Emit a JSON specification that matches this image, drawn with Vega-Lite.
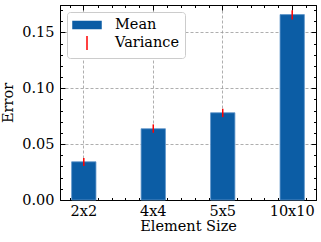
{
  "$schema": "https://vega.github.io/schema/vega-lite/v6.json",
  "autosize": "none",
  "padding": {"left": 60, "top": 5, "right": 5, "bottom": 42},
  "width": 256,
  "height": 195,
  "config": {
    "font": "DejaVu Serif",
    "view": {"stroke": "black", "strokeWidth": 1},
    "axis": {
      "labelFont": "DejaVu Serif", "titleFont": "DejaVu Serif",
      "labelFontSize": 14.5, "titleFontSize": 14.5,
      "labelColor": "black", "titleColor": "black",
      "titleFontWeight": "normal",
      "domainColor": "black", "domainWidth": 1,
      "tickColor": "black", "tickWidth": 1,
      "gridColor": "#999999", "gridDash": [3, 2], "gridWidth": 0.8
    },
    "legend": {
      "labelFont": "DejaVu Serif", "labelFontSize": 14.5, "labelColor": "black",
      "orient": "top-left", "offset": 7, "padding": 5,
      "fillColor": "white", "strokeColor": "#cccccc", "cornerRadius": 3,
      "symbolSize": 196, "rowPadding": 1, "labelOffset": 27,
      "symbolOpacity": 1, "symbolStrokeWidth": 1.5
    }
  },
  "data": {
    "values": [
      {"size": "2x2", "mean": 0.0342, "lo": 0.0304, "hi": 0.0375},
      {"size": "4x4", "mean": 0.0638, "lo": 0.0602, "hi": 0.0677},
      {"size": "5x5", "mean": 0.0781, "lo": 0.0742, "hi": 0.0817},
      {"size": "10x10", "mean": 0.1660, "lo": 0.1617, "hi": 0.1698}
    ]
  },
  "resolve": {"scale": {"x": "independent"}, "axis": {"x": "independent", "y": "independent"}},
  "layer": [
    {
      "mark": {"type": "bar", "fill": "#0C5DA5", "stroke": "#5d93c9", "strokeWidth": 0.8},
      "encoding": {
        "x": {"field": "size", "type": "nominal", "sort": null,
              "scale": {"paddingInner": 0.65, "paddingOuter": 0.1675},
              "axis": {"orient": "bottom", "title": "Element Size", "labelAngle": 0, "tickSize": -5, "labelPadding": 9, "titlePadding": 2, "grid": true}},
        "y": {"field": "mean", "type": "quantitative",
              "scale": {"domain": [0, 0.1746], "nice": false, "zero": false},
              "axis": {"orient": "left", "title": "Error", "values": [0, 0.05, 0.1, 0.15], "format": ".2f", "tickSize": -5, "labelPadding": 11, "titlePadding": 6, "grid": true}}
      }
    },
    {
      "mark": {"type": "rule", "strokeWidth": 1.5, "color": "#FF0000"},
      "encoding": {
        "x": {"field": "size", "type": "nominal", "sort": null,
              "scale": {"paddingInner": 0.65, "paddingOuter": 0.1675},
              "axis": {"orient": "top", "title": null, "labels": false, "tickSize": -5, "grid": false, "domain": true}},
        "y": {"field": "lo", "type": "quantitative",
              "axis": {"orient": "right", "title": null, "labels": false, "values": [0, 0.05, 0.1, 0.15], "tickSize": -5, "grid": false}},
        "y2": {"field": "hi"}
      }
    },
    {
      "mark": {"type": "point", "filled": true, "opacity": 0},
      "encoding": {
        "color": {"datum": "Mean", "type": "nominal",
                  "scale": {"domain": ["Mean", "Variance"], "range": ["#0C5DA5", "#FF0000"]},
                  "legend": {"title": null}},
        "shape": {"datum": "Mean", "type": "nominal",
                  "scale": {"domain": ["Mean", "Variance"], "range": ["M-1,-0.5H3V0.5H-1Z", "M1,-1V1"]},
                  "legend": {"title": null}}
      }
    },
    {
      "mark": {"type": "point", "filled": false, "opacity": 0},
      "encoding": {
        "color": {"datum": "Variance", "type": "nominal"},
        "shape": {"datum": "Variance", "type": "nominal"}
      }
    },
    {
      "mark": {"type": "point", "opacity": 0},
      "encoding": {
        "y": {"datum": 0, "type": "quantitative",
              "axis": {"orient": "left", "title": null, "labels": false, "domain": false, "grid": false, "tickSize": -2.5,
                       "values": [0.01, 0.02, 0.03, 0.04, 0.06, 0.07, 0.08, 0.09, 0.11, 0.12, 0.13, 0.14, 0.16, 0.17]}}
      }
    },
    {
      "mark": {"type": "point", "opacity": 0},
      "encoding": {
        "y": {"datum": 0, "type": "quantitative",
              "axis": {"orient": "right", "title": null, "labels": false, "domain": false, "grid": false, "tickSize": -2.5,
                       "values": [0.01, 0.02, 0.03, 0.04, 0.06, 0.07, 0.08, 0.09, 0.11, 0.12, 0.13, 0.14, 0.16, 0.17]}}
      }
    },
    {
      "mark": {"type": "point", "opacity": 0},
      "encoding": {
        "x": {"datum": 0, "type": "quantitative",
              "scale": {"domain": [-0.3425, 3.3425], "nice": false, "zero": false},
              "axis": {"orient": "bottom", "title": null, "labels": false, "domain": false, "grid": false, "tickSize": -2.5,
                       "values": [-0.2, 0.2, 0.4, 0.6, 0.8, 1.2, 1.4, 1.6, 1.8, 2.2, 2.4, 2.6, 2.8, 3.2]}}
      }
    },
    {
      "mark": {"type": "point", "opacity": 0},
      "encoding": {
        "x": {"datum": 0, "type": "quantitative",
              "scale": {"domain": [-0.3425, 3.3425], "nice": false, "zero": false},
              "axis": {"orient": "top", "title": null, "labels": false, "domain": false, "grid": false, "tickSize": -2.5,
                       "values": [-0.2, 0.2, 0.4, 0.6, 0.8, 1.2, 1.4, 1.6, 1.8, 2.2, 2.4, 2.6, 2.8, 3.2]}}
      }
    }
  ]
}
